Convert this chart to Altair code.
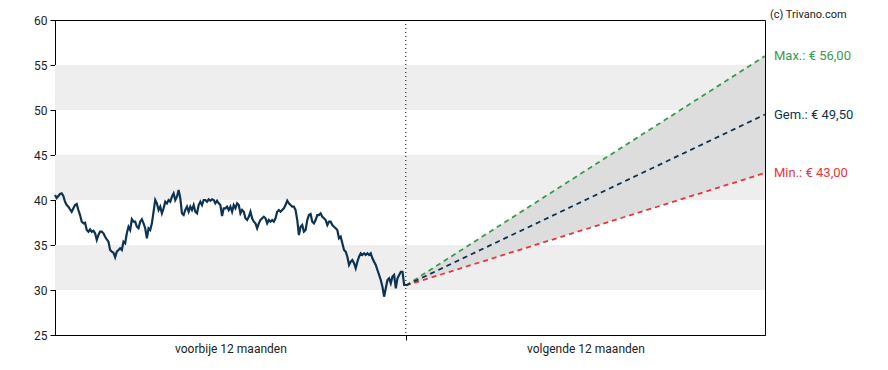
import altair as alt
import pandas as pd

# Historical closing prices (past 12 months), evenly spaced trading days
hist = [
    40.56, 40.22, 40.44, 40.67, 40.74, 40.44, 39.81, 39.44, 39.26, 38.97,
    38.70, 39.08, 39.44, 39.56, 38.89, 38.33, 37.59, 37.41, 37.48, 36.67,
    36.48, 36.74, 36.48, 36.59, 36.30, 35.56, 36.11, 36.48, 36.48, 36.30,
    35.92, 35.63, 35.37, 34.44, 34.26, 34.14, 33.63, 34.26, 34.44, 34.63,
    34.44, 35.37, 35.19, 36.30, 37.03, 36.67, 37.86, 37.59, 37.59, 37.03,
    36.86, 37.59, 37.86, 37.41, 36.86, 35.74, 36.86, 36.67, 37.41, 38.70,
    40.00, 39.63, 38.89, 39.26, 38.52, 39.08, 39.81, 39.63, 40.00, 39.81,
    40.37, 40.74, 40.00, 40.37, 41.11, 40.19, 38.52, 38.33, 38.89, 39.26,
    38.70, 39.26, 38.89, 39.44, 38.70, 38.52, 39.44, 39.81, 39.44, 40.00,
    40.00, 39.81, 40.08, 39.92, 40.08, 40.00, 39.63, 39.92, 39.63, 39.44,
    38.22, 39.08,
    39.08, 39.26, 38.89, 39.26, 38.70, 39.44, 39.08, 39.63, 39.44, 38.52,
    38.89, 38.70, 37.97, 37.78, 38.14, 38.70, 37.97, 37.59, 37.41, 36.86,
    37.41, 37.78, 37.97, 38.14, 37.97, 37.41, 37.78, 37.59, 37.78, 37.59,
    37.97, 38.70, 38.89, 38.70, 38.89, 39.08, 39.44, 39.92, 39.63, 39.44,
    39.26, 39.26, 38.89, 37.78, 36.11, 37.03, 37.22, 36.48, 36.67, 37.78,
    38.33, 38.44, 37.59,
    37.41, 37.78, 38.33, 38.33, 38.52, 38.14, 37.97, 37.78, 37.22, 37.59,
    37.59, 37.22, 37.03, 36.86, 36.67, 35.74, 35.92, 35.19, 34.44, 34.26,
    33.70, 32.78, 33.14, 33.33, 32.97, 32.41, 33.14, 33.70, 34.08, 33.89,
    34.08, 33.89, 34.08, 33.89, 34.08, 33.52, 33.14, 32.78, 32.22, 31.67,
    31.11, 30.37, 29.26, 30.19, 31.11, 31.30, 30.74, 31.48, 31.67, 30.19,
    31.30, 31.67, 32.03, 32.03, 30.56, 30.56,
]

split = len(hist) - 1          # last historical day / start of forecast
x_end = 425                    # end of the 12-month forecast
fc_t = [split, x_end]
fc_max = [30.5, 56.0]
fc_avg = [30.5, 49.5]
fc_min = [30.5, 43.0]

band_lo = [30, 40, 50]
band_hi = [35, 45, 55]

x_label_pos = [split / 2, (split + x_end) / 2]
x_labels = ["voorbije 12 maanden", "volgende 12 maanden"]

y_ticks = [25, 30, 35, 40, 45, 50, 55, 60]

c_max, c_avg, c_min = "#3a9a4e", "#0d3352", "#e8353d"
c_hist = "#0d3352"

FONT = "Roboto"

hist_df = pd.DataFrame({"t": list(range(len(hist))), "v": hist})
fc_df = pd.DataFrame({"t": fc_t, "mx": fc_max, "av": fc_avg, "mn": fc_min})
band_df = pd.DataFrame({"lo": band_lo, "hi": band_hi})


def fmt(v):
    return f"{v:.2f}".replace(".", ",")


lab_df = pd.DataFrame({
    "t": [x_end] * 3,
    "v": [fc_max[-1], fc_avg[-1], fc_min[-1]],
    "txt": [f"Max.: € {fmt(fc_max[-1])}", f"Gem.: € {fmt(fc_avg[-1])}", f"Min.: € {fmt(fc_min[-1])}"],
    "c": [c_max, c_avg, c_min],
})

p1, p2 = x_label_pos
label_expr = (
    f"datum.value == {p1} ? '{x_labels[0]}' : "
    f"(datum.value == {p2} ? '{x_labels[1]}' : '')"
)

xscale = alt.Scale(domain=[0, x_end], nice=False, zero=False)
yscale = alt.Scale(domain=[25, 60], nice=False, zero=False)

x_axis = alt.Axis(
    values=[p1, split, p2], labelExpr=label_expr, title=None, grid=False,
    domainColor="#000", tickSize=5, labelFontSize=12, labelColor="#222",
    labelFont=FONT, labelPadding=3, labelFlush=False,
    tickColor={"condition": {"test": f"datum.value == {split}", "value": "#000"},
               "value": "transparent"},
)
y_axis = alt.Axis(
    values=y_ticks, title=None, grid=False, domainColor="#000", tickColor="#000",
    tickSize=5, labelFontSize=12, labelColor="#222", labelFont=FONT, labelPadding=3,
)

X = lambda f: alt.X(f, type="quantitative", scale=xscale, axis=x_axis)
Y = lambda f: alt.Y(f, type="quantitative", scale=yscale, axis=y_axis)

bands = alt.Chart(band_df).mark_rect(color="#eeeeee").encode(
    y=Y("lo"), y2="hi"
)

area = alt.Chart(fc_df).mark_area(color="#dddddd", opacity=1).encode(
    x=X("t"), y=Y("mn"), y2="mx"
)

line_hist = alt.Chart(hist_df).mark_line(color=c_hist, strokeWidth=2.2).encode(
    x=X("t"), y=Y("v")
)

def dash(field, color):
    return alt.Chart(fc_df).mark_line(color=color, strokeWidth=1.8, strokeDash=[5, 4]).encode(
        x=X("t"), y=Y(field)
    )

divider = alt.Chart(pd.DataFrame({"t": [split]})).mark_rule(
    color="#000", strokeWidth=1, strokeDash=[1, 3]
).encode(x=X("t"))

labels = alt.Chart(lab_df).mark_text(
    align="left", baseline="middle", dx=9, fontSize=13, font=FONT
).encode(x=X("t"), y=Y("v"), text="txt:N", color=alt.Color("c:N", scale=None))

credit = alt.Chart(pd.DataFrame({"a": [0]})).mark_text(
    text="(c) Trivano.com", align="left", baseline="top", fontSize=11,
    font=FONT, color="#222"
).encode(x=alt.value(715), y=alt.value(-11))

chart = alt.layer(
    bands, area, line_hist, dash("mx", c_max), dash("mn", c_min), dash("av", c_avg),
    divider, labels, credit
).properties(
    width=710, height=315,
    autosize=alt.AutoSizeParams(type="none"),
    padding={"left": 47, "top": 12, "right": 110, "bottom": 30},
    background="white",
).configure_view(stroke="#000", strokeWidth=1)

chart.save("out.html", embed_options={"renderer": "svg", "actions": False})
